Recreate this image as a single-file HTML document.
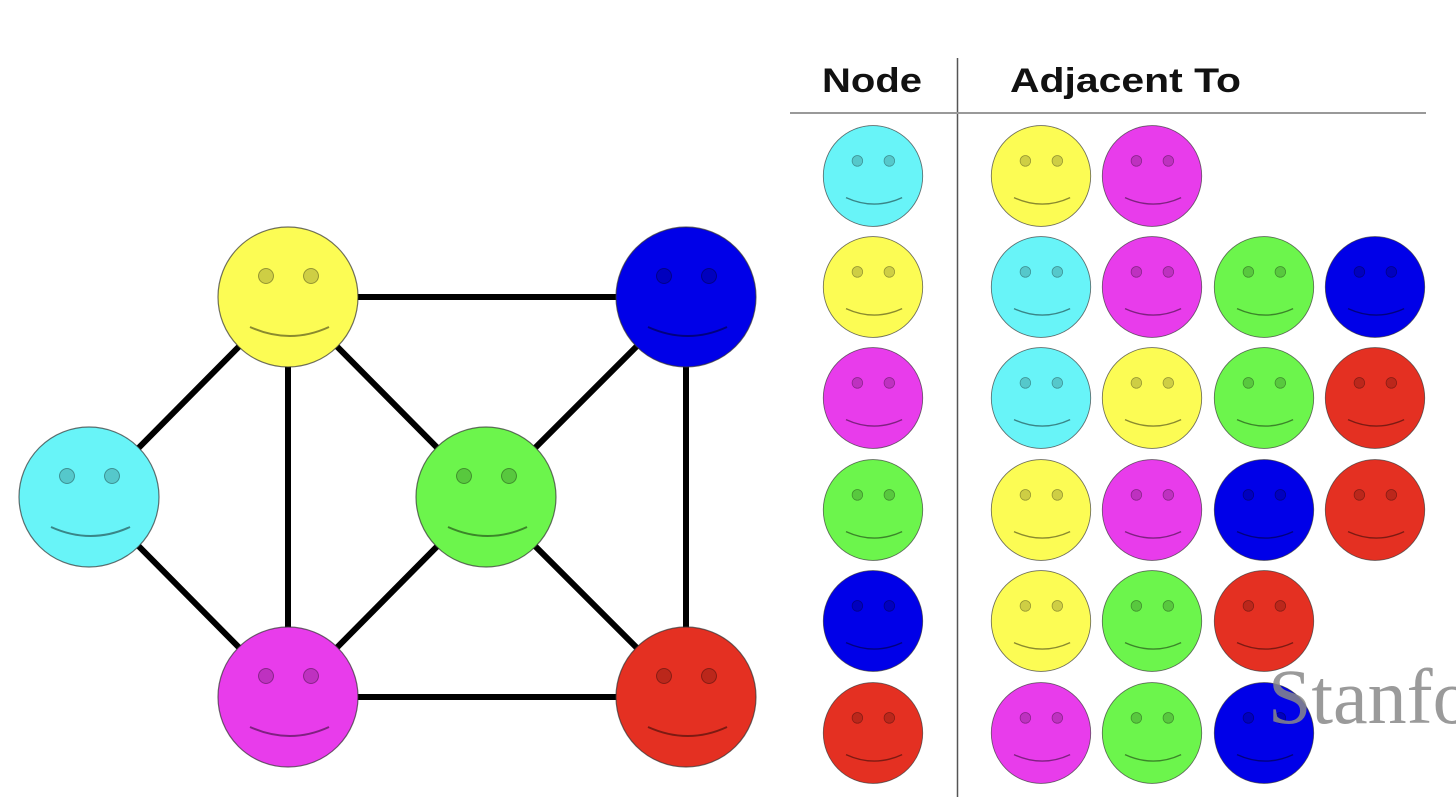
<!DOCTYPE html>
<html><head><meta charset="utf-8"><style>html,body{margin:0;padding:0;background:#fff;width:1456px;height:808px;overflow:hidden}</style></head>
<body>
<svg width="1456" height="808" viewBox="0 0 1456 808" xmlns="http://www.w3.org/2000/svg">
<defs>
<g id="f">
<circle cx="0" cy="0" r="70" stroke="#333" stroke-width="1.2" stroke-opacity="0.7"/>
<circle cx="-22" cy="-21" r="7.5" fill="#000" fill-opacity="0.18" stroke="#000" stroke-opacity="0.35" stroke-width="1"/>
<circle cx="23" cy="-21" r="7.5" fill="#000" fill-opacity="0.18" stroke="#000" stroke-opacity="0.35" stroke-width="1"/>
<path d="M-38,30 Q2,48 41,30" fill="none" stroke="#000" stroke-opacity="0.45" stroke-width="2"/>
</g>
</defs>
<g stroke="#000" stroke-width="6">
<line x1="90" y1="497" x2="288" y2="297"/>
<line x1="90" y1="497" x2="288" y2="697"/>
<line x1="288" y1="297" x2="686" y2="297"/>
<line x1="288" y1="297" x2="288" y2="697"/>
<line x1="288" y1="297" x2="486" y2="497"/>
<line x1="686" y1="297" x2="486" y2="497"/>
<line x1="686" y1="297" x2="686" y2="697"/>
<line x1="288" y1="697" x2="486" y2="497"/>
<line x1="288" y1="697" x2="686" y2="697"/>
<line x1="486" y1="497" x2="686" y2="697"/>
</g>
<use href="#f" transform="translate(89,497)" fill="#68f4f8"/>
<use href="#f" transform="translate(288,297)" fill="#fcfc54"/>
<use href="#f" transform="translate(686,297)" fill="#0000e8"/>
<use href="#f" transform="translate(486,497)" fill="#6cf54c"/>
<use href="#f" transform="translate(288,697)" fill="#e83ceb"/>
<use href="#f" transform="translate(686,697)" fill="#e43022"/>

<line x1="957.5" y1="58" x2="957.5" y2="797" stroke="#555" stroke-width="1.5"/>
<line x1="790" y1="113" x2="1426" y2="113" stroke="#999" stroke-width="2"/>
<text x="822" y="92" font-family="Liberation Sans, sans-serif" font-weight="bold" font-size="34" textLength="100" lengthAdjust="spacingAndGlyphs" fill="#111">Node</text>
<text x="1010" y="92" font-family="Liberation Sans, sans-serif" font-weight="bold" font-size="34" textLength="231" lengthAdjust="spacingAndGlyphs" fill="#111">Adjacent To</text>

<g>
<use href="#f" transform="translate(873,176) scale(0.71,0.72)" fill="#68f4f8"/>
<use href="#f" transform="translate(1041,176) scale(0.71,0.72)" fill="#fcfc54"/>
<use href="#f" transform="translate(1152,176) scale(0.71,0.72)" fill="#e83ceb"/>
<use href="#f" transform="translate(873,287) scale(0.71,0.72)" fill="#fcfc54"/>
<use href="#f" transform="translate(1041,287) scale(0.71,0.72)" fill="#68f4f8"/>
<use href="#f" transform="translate(1152,287) scale(0.71,0.72)" fill="#e83ceb"/>
<use href="#f" transform="translate(1264,287) scale(0.71,0.72)" fill="#6cf54c"/>
<use href="#f" transform="translate(1375,287) scale(0.71,0.72)" fill="#0000e8"/>
<use href="#f" transform="translate(873,398) scale(0.71,0.72)" fill="#e83ceb"/>
<use href="#f" transform="translate(1041,398) scale(0.71,0.72)" fill="#68f4f8"/>
<use href="#f" transform="translate(1152,398) scale(0.71,0.72)" fill="#fcfc54"/>
<use href="#f" transform="translate(1264,398) scale(0.71,0.72)" fill="#6cf54c"/>
<use href="#f" transform="translate(1375,398) scale(0.71,0.72)" fill="#e43022"/>
<use href="#f" transform="translate(873,510) scale(0.71,0.72)" fill="#6cf54c"/>
<use href="#f" transform="translate(1041,510) scale(0.71,0.72)" fill="#fcfc54"/>
<use href="#f" transform="translate(1152,510) scale(0.71,0.72)" fill="#e83ceb"/>
<use href="#f" transform="translate(1264,510) scale(0.71,0.72)" fill="#0000e8"/>
<use href="#f" transform="translate(1375,510) scale(0.71,0.72)" fill="#e43022"/>
<use href="#f" transform="translate(873,621) scale(0.71,0.72)" fill="#0000e8"/>
<use href="#f" transform="translate(1041,621) scale(0.71,0.72)" fill="#fcfc54"/>
<use href="#f" transform="translate(1152,621) scale(0.71,0.72)" fill="#6cf54c"/>
<use href="#f" transform="translate(1264,621) scale(0.71,0.72)" fill="#e43022"/>
<use href="#f" transform="translate(873,733) scale(0.71,0.72)" fill="#e43022"/>
<use href="#f" transform="translate(1041,733) scale(0.71,0.72)" fill="#e83ceb"/>
<use href="#f" transform="translate(1152,733) scale(0.71,0.72)" fill="#6cf54c"/>
<use href="#f" transform="translate(1264,733) scale(0.71,0.72)" fill="#0000e8"/>
</g>
<text x="1268" y="723" font-family="Liberation Serif, serif" font-size="78" fill="#888" fill-opacity="0.85">Stanford</text>
</svg>
</body></html>
